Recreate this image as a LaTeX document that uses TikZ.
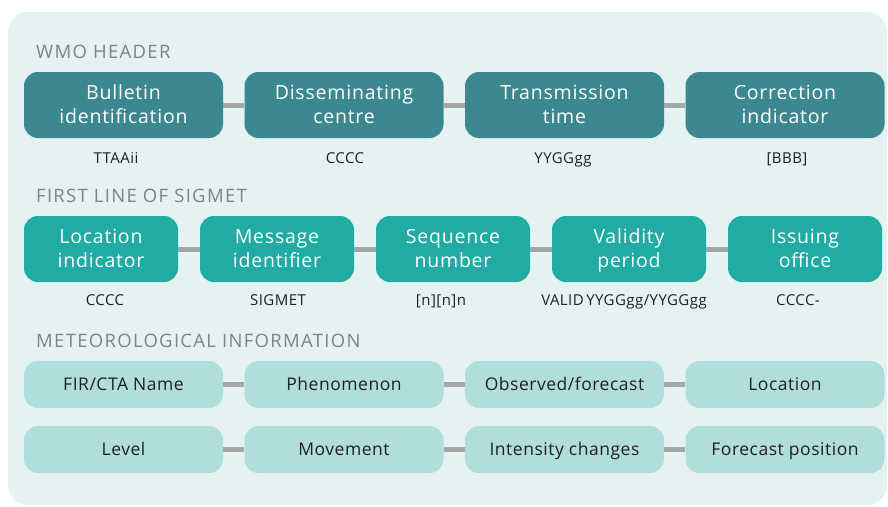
\documentclass[tikz,border=0pt]{standalone}
\usepackage{fontspec}
\setmainfont{Open Sans}[LetterSpace=3]
\definecolor{panel}{HTML}{E4F3F1}
\definecolor{darkteal}{HTML}{3B8891}
\definecolor{midteal}{HTML}{20ABA4}
\definecolor{lightteal}{HTML}{B0DEDA}
\definecolor{linkgray}{HTML}{A6A6A6}
\definecolor{titlegray}{HTML}{808285}
\definecolor{ink}{HTML}{231F20}
\begin{document}
\begin{tikzpicture}[x=1pt,y=-1pt,
  boxbase/.style={rounded corners=14pt, inner sep=0pt, align=center},
  twoline/.style={text height=37.5pt, text depth=0pt, font=\fontsize{19.5}{24}\selectfont\addfontfeature{LetterSpace=4}},
  darkbox/.style={boxbase, twoline, fill=darkteal, text=white, minimum width=199pt, minimum height=66pt},
  midbox/.style={boxbase, twoline, fill=midteal, text=white, minimum width=154pt, minimum height=66pt},
  lightbox/.style={boxbase, fill=lightteal, text=ink, minimum width=199pt, minimum height=47pt, text height=12pt, text depth=0pt, font=\fontsize{17.5}{22}\selectfont},
  link/.style={draw=linkgray, line width=5pt},
  sectitle/.style={anchor=base west, inner sep=0pt, text=titlegray, font=\fontsize{18.5}{20}\selectfont\addfontfeature{LetterSpace=7}},
  codelabel/.style={anchor=base, inner sep=0pt, text=ink, font=\fontsize{15}{18}\selectfont}
]
\useasboundingbox (0,0) rectangle (888,506);
\fill[panel, rounded corners=20pt] (8,12) rectangle (887,505);

% section titles
\node[sectitle] (t1) at (36,58) {WMO HEADER};
\node[sectitle] (t2) at (36,202) {FIRST LINE OF SIGMET};
\node[sectitle] (t3) at (36,347) {METEOROLOGICAL INFORMATION};

% row 1
\node[darkbox] (a1) at (123.5,105) {Bulletin\\identification};
\node[darkbox] (a2) at (344,105) {Disseminating\\centre};
\node[darkbox] (a3) at (564.5,105) {Transmission\\time};
\node[darkbox] (a4) at (785,105) {Correction\\indicator};
\draw[link] (a1) -- (a2);
\draw[link] (a2) -- (a3);
\draw[link] (a3) -- (a4);
\node[codelabel] (la1) at (116,163) {TTAAii};
\node[codelabel] (la2) at (345,163) {CCCC};
\node[codelabel] (la3) at (563,163) {YYGGgg};
\node[codelabel] (la4) at (787,163) {[BBB]};

% row 2
\node[midbox] (b1) at (101,249) {Location\\indicator};
\node[midbox] (b2) at (277,249) {Message\\identifier};
\node[midbox] (b3) at (453,249) {Sequence\\number};
\node[midbox] (b4) at (629,249) {Validity\\period};
\node[midbox] (b5) at (805,249) {Issuing\\office};
\draw[link] (b1) -- (b2);
\draw[link] (b2) -- (b3);
\draw[link] (b3) -- (b4);
\draw[link] (b4) -- (b5);
\node[codelabel] (lb1) at (105,305) {CCCC};
\node[codelabel] (lb2) at (278,305) {SIGMET};
\node[codelabel] (lb3) at (441,305) {[n][n]n};
\node[codelabel] (lb4) at (624,305) {VALID\,YYGGgg/YYGGgg};
\node[codelabel] (lb5) at (798,305) {CCCC-};

% row 3
\node[lightbox] (c1) at (123.5,384.5) {FIR/CTA Name};
\node[lightbox] (c2) at (344,384.5) {Phenomenon};
\node[lightbox] (c3) at (564.5,384.5) {Observed/forecast};
\node[lightbox] (c4) at (785,384.5) {Location};
\draw[link] (c1) -- (c2);
\draw[link] (c2) -- (c3);
\draw[link] (c3) -- (c4);

% row 4
\node[lightbox] (d1) at (123.5,449.5) {Level};
\node[lightbox] (d2) at (344,449.5) {Movement};
\node[lightbox] (d3) at (564.5,449.5) {Intensity changes};
\node[lightbox] (d4) at (785,449.5) {Forecast position};
\draw[link] (d1) -- (d2);
\draw[link] (d2) -- (d3);
\draw[link] (d3) -- (d4);
\end{tikzpicture}
\end{document}
